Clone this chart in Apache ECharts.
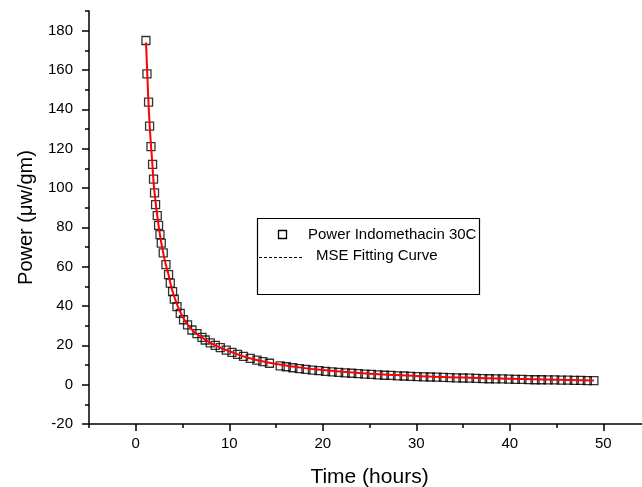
<!DOCTYPE html>
<html>
<head>
<meta charset="utf-8">
<script src="https://cdn.jsdelivr.net/npm/echarts@6/dist/echarts.min.js"></script>
<style>
  html, body { margin: 0; padding: 0; background: #fff; }
  #chart { width: 642px; height: 487px; }
</style>
</head>
<body>
<div id="chart"></div>
<script>
// measured power (squares)
const timeHours = [
  1.09, 1.20, 1.37, 1.48, 1.63, 1.80, 1.90, 2.01, 2.12, 2.30,
  2.44, 2.59, 2.73, 2.94, 3.23, 3.51, 3.69, 3.94, 4.12, 4.41,
  4.76, 5.11, 5.54, 6.01, 6.55, 7.08, 7.43, 7.97, 8.50, 9.04,
  9.68, 10.29, 10.89, 11.53, 12.25, 12.96, 13.60, 14.30, 15.45, 16.1,
  16.8, 17.5, 18.2, 18.9, 19.6, 20.3, 21.0, 21.7, 22.4, 23.1,
  23.8, 24.5, 25.2, 25.9, 26.6, 27.3, 28.0, 28.7, 29.4, 30.1,
  30.8, 31.5, 32.2, 32.9, 33.6, 34.3, 35.0, 35.7, 36.4, 37.1,
  37.8, 38.5, 39.2, 39.9, 40.6, 41.3, 42.0, 42.7, 43.4, 44.1,
  44.8, 45.5, 46.2, 46.9, 47.6, 48.3, 49.0
];
const powerValues = [
  175, 158, 143.7, 131.5, 121, 112, 104.5, 97.5, 91.5, 86,
  81, 76.3, 72, 67, 61, 56, 51.6, 47.3, 43.5, 39.7,
  36.3, 33, 30.4, 27.8, 26, 24, 22.7, 21.2, 20, 18.8,
  17.6, 16.4, 15.4, 14.4, 13.4, 12.5, 11.7, 10.9, 9.6, 9.1,
  8.6, 8.2, 7.8, 7.4, 7.1, 6.8, 6.5, 6.2, 6.0, 5.8,
  5.6, 5.4, 5.2, 5.0, 4.8, 4.7, 4.5, 4.4, 4.2, 4.1,
  4.0, 3.9, 3.8, 3.7, 3.6, 3.5, 3.4, 3.3, 3.2, 3.1,
  3.0, 2.9, 2.9, 2.8, 2.7, 2.7, 2.6, 2.5, 2.5, 2.4,
  2.4, 2.3, 2.3, 2.2, 2.2, 2.1, 2.1
];

// MSE fitting curve (red)
const fitTime = [1.1, 1.3, 1.5, 1.75, 2, 2.5, 3, 3.5, 4, 5, 6, 7, 8, 9, 10, 12, 14, 17, 20, 25, 30, 35, 40, 45, 49];
const fitPower = [174, 150, 131, 114, 98, 79, 65.5, 56, 46.5, 34.5, 28, 24.3, 21.2, 18.9, 17, 13.7, 11.4, 9.1, 7.4, 5.6, 4.4, 3.6, 3.0, 2.5, 2.1];

const font = "'Liberation Sans', Arial, Helvetica, sans-serif";

const chart = echarts.init(document.getElementById('chart'), null, { renderer: 'canvas' });

const tickStyle = { color: '#000', width: 1.5 };

chart.setOption({
  animation: false,
  backgroundColor: '#fff',
  grid: { left: 89, top: 11, width: 561, height: 413, containLabel: false, outerBoundsMode: 'none' },
  xAxis: [
    {
      type: 'value', min: -5, max: 55, splitNumber: 5,
      name: 'Time (hours)', nameLocation: 'middle', nameGap: 43,
      nameTextStyle: { fontFamily: font, fontSize: 21, color: '#000' },
      axisLine: { show: true, onZero: false, lineStyle: { color: '#000', width: 1.5 } },
      splitLine: { show: false },
      axisTick: { show: true, length: 7, lineStyle: tickStyle },
      axisLabel: { showMinLabel: false, showMaxLabel: false, margin: 12, fontFamily: font, fontSize: 15, color: '#000' }
    },
    {
      type: 'value', min: -5, max: 55, interval: 5,
      position: 'bottom',
      axisLine: { show: false, onZero: false },
      splitLine: { show: false },
      axisTick: { show: true, length: 4, lineStyle: tickStyle },
      axisLabel: { show: false }
    }
  ],
  yAxis: [
    {
      type: 'value', min: -20, max: 190, splitNumber: 10,
      name: 'Power (\u03bcw/gm)', nameLocation: 'middle', nameGap: 53,
      nameTextStyle: { fontFamily: font, fontSize: 20, color: '#000' },
      axisLine: { show: true, onZero: false, lineStyle: { color: '#000', width: 1.5 } },
      splitLine: { show: false },
      axisTick: { show: true, length: 7, lineStyle: tickStyle },
      axisLabel: { showMaxLabel: false, margin: 16, fontFamily: font, fontSize: 15, color: '#000' }
    },
    {
      type: 'value', min: -20, max: 190, interval: 10,
      position: 'left',
      axisLine: { show: false, onZero: false },
      splitLine: { show: false },
      axisTick: { show: true, length: 4, lineStyle: tickStyle },
      axisLabel: { show: false }
    }
  ],
  series: [
    {
      name: 'Power Indomethacin 30C',
      type: 'scatter',
      symbol: 'rect',
      symbolSize: 8,
      data: timeHours.map((t, i) => [t, powerValues[i]]),
      itemStyle: { color: 'rgba(0,0,0,0)', borderColor: '#000', borderWidth: 1.3 },
      z: 2
    },
    {
      name: 'MSE Fitting Curve',
      type: 'line',
      smooth: true,
      showSymbol: false,
      data: fitTime.map((t, i) => [t, fitPower[i]]),
      lineStyle: { color: '#ff0000', width: 2 },
      z: 3
    }
  ],
  graphic: [
    { type: 'rect', shape: { x: 257.5, y: 218.5, width: 222, height: 76 }, style: { fill: '#fff', stroke: '#000', lineWidth: 1.2 }, z: 10 },
    { type: 'rect', shape: { x: 278.5, y: 230.5, width: 8, height: 8 }, style: { fill: 'none', stroke: '#000', lineWidth: 1.3 }, z: 11 },
    { type: 'text', x: 308, y: 235, style: { text: 'Power Indomethacin 30C', font: '15px ' + font, fill: '#000', verticalAlign: 'middle' }, z: 11 },
    { type: 'line', shape: { x1: 259, y1: 257.5, x2: 304, y2: 257.5 }, style: { stroke: '#000', lineWidth: 1, lineDash: [3, 2] }, z: 11 },
    { type: 'text', x: 316, y: 256, style: { text: 'MSE Fitting Curve', font: '15px ' + font, fill: '#000', verticalAlign: 'middle' }, z: 11 }
  ]
});
</script>
</body>
</html>
